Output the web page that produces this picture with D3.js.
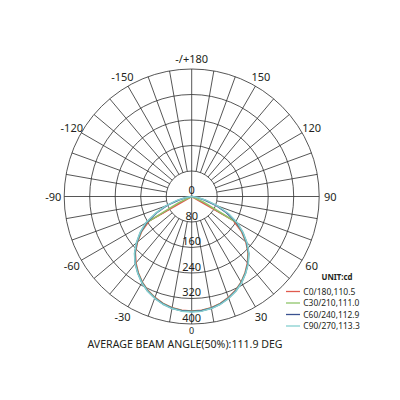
<!DOCTYPE html>
<html>
<head>
<meta charset="utf-8">
<script src="https://cdn.jsdelivr.net/npm/d3@7"></script>
<style>
  body { margin: 0; background: #fff; }
  text { font-family: "Noto Sans", "Open Sans", sans-serif; fill: #231f20; }
</style>
</head>
<body>
<div id="polar"></div>
<script>
// gamma angles (deg), 0 = straight down, positive to the right
const gammas = [-90,-85,-80,-75,-70,-65,-60,-55,-50,-45,-40,-35,-30,-25,-20,-15,-10,-5,
                0,5,10,15,20,25,30,35,40,45,50,55,60,65,70,75,80,85,90];

// intensity (cd) for each C plane
const c0Values  = [0,0,0,0,0,0,155,192,222,250,272,292,310,325,337,347,354,358,
                   359,358,354,347,337,325,310,292,272,250,222,190,150,0,0,0,0,0,0];
const c30Values = [0,0,0,0,0,45,162,194,224,252,274,293,311,326,338,348,355,359,
                   360,359,355,348,338,326,311,293,274,252,224,193,160,40,0,0,0,0,0];
const c60Values = [0,3,16,42,82,122,164,196,225,253,275,294,312,327,339,349,356,360,
                   361,360,356,349,339,327,312,294,275,253,225,195,162,120,80,42,16,3,0];
const c90Values = [0,6,22,50,88,126,168,198,227,254,276,295,313,328,340,350,357,361,
                   362,361,357,350,340,328,313,295,276,254,227,197,166,128,88,50,22,6,0];

const seriesNames  = ["C0/180,110.5", "C30/210,111.0", "C60/240,112.9", "C90/270,113.3"];
const seriesColors = ["#e05a4e", "#8fc46a", "#3a5190", "#86d0cf"];

const ringTicks  = [80, 160, 240, 320, 400];
const angleTicks = [0, 30, 60, 90, 120, 150, 180, -150, -120, -90, -60, -30];
const angleLabels = ["0", "30", "60", "90", "120", "150", "-/+180", "-150", "-120", "-90", "-60", "-30"];

const width = 400, height = 400;
const cx = 191.7, cy = 196.5, R = 127.5;

const svg = d3.select("#polar")
  .append("svg")
    .attr("width", width)
    .attr("height", height);

const g = svg.append("g")
    .attr("transform", `translate(${cx},${cy})`);

const r = d3.scaleLinear().domain([0, 400]).range([0, R]);
const rad = d => d * Math.PI / 180;

// grid: rings
g.append("g")
  .selectAll("circle")
  .data(ringTicks)
  .join("circle")
    .attr("r", d => r(d))
    .attr("fill", "none")
    .attr("stroke", "#2b2b2b")
    .attr("stroke-width", 0.8);

// grid: spokes every 10 deg, main axes run through the centre
const spokes = d3.range(0, 360, 10);
g.append("g")
  .selectAll("line")
  .data(spokes)
  .join("line")
    .attr("x1", d => (d % 90 === 0 ? 0 : r(ringTicks[0])) * Math.sin(rad(d)))
    .attr("y1", d => (d % 90 === 0 ? 0 : r(ringTicks[0])) * Math.cos(rad(d)))
    .attr("x2", d => R * Math.sin(rad(d)))
    .attr("y2", d => R * Math.cos(rad(d)))
    .attr("stroke", "#2b2b2b")
    .attr("stroke-width", 0.8);

// curves, drawn so the cyan one ends on top
const allSeries = [c0Values, c30Values, c60Values, c90Values];
const line = d3.lineRadial()
  .angle((d, i) => Math.PI - rad(gammas[i]))
  .radius(d => r(d));

g.append("g")
  .selectAll("path")
  .data(allSeries)
  .join("path")
    .attr("d", d => line(d))
    .attr("fill", "none")
    .attr("stroke", (d, i) => seriesColors[i])
    .attr("stroke-width", 1.5)
    .attr("stroke-linejoin", "round");

// ring labels along the lower axis
g.append("g")
  .selectAll("text")
  .data([0].concat(ringTicks))
  .join("text")
    .attr("x", 0)
    .attr("y", d => r(d) - 2.5)
    .attr("text-anchor", "middle")
    .attr("font-size", 11)
    .text(d => d);

// angle labels (the bottom one is squeezed between the 400 label and the title)
g.append("g")
  .selectAll("text")
  .data(angleTicks)
  .join("text")
    .attr("x", d => (d === 0 ? 134 : 138.5) * Math.sin(rad(d)))
    .attr("y", d => (d === 0 ? 134 : 138.5) * Math.cos(rad(d)))
    .attr("text-anchor", "middle")
    .attr("dominant-baseline", "central")
    .attr("font-size", d => d === 0 ? 9 : 11)
    .text((d, i) => angleLabels[i]);

// title under the chart
svg.append("text")
  .attr("x", 185)
  .attr("y", 347.5)
  .attr("text-anchor", "middle")
  .attr("font-size", 10.5)
  .attr("textLength", 195)
  .attr("lengthAdjust", "spacingAndGlyphs")
  .text("AVERAGE BEAM ANGLE(50%):111.9 DEG");

// legend
const legend = svg.append("g");
legend.append("text")
  .attr("x", 337)
  .attr("y", 280)
  .attr("text-anchor", "middle")
  .attr("font-size", 9.5)
  .attr("font-weight", "bold")
  .attr("textLength", 31)
  .attr("lengthAdjust", "spacingAndGlyphs")
  .text("UNIT:cd");

const rows = legend.selectAll("g.row")
  .data(seriesNames)
  .join("g")
    .attr("class", "row")
    .attr("transform", (d, i) => `translate(0,${291.5 + i * 11.5})`);

rows.append("line")
  .attr("x1", 286).attr("x2", 300)
  .attr("y1", 0).attr("y2", 0)
  .attr("stroke", (d, i) => seriesColors[i])
  .attr("stroke-width", 1.3);

rows.append("text")
  .attr("x", 303.3)
  .attr("y", 3)
  .attr("font-size", 8.5)
  .attr("textLength", (d, i) => [52, 56, 56, 56.5][i])
  .attr("lengthAdjust", "spacingAndGlyphs")
  .text(d => d);
</script>
</body>
</html>
